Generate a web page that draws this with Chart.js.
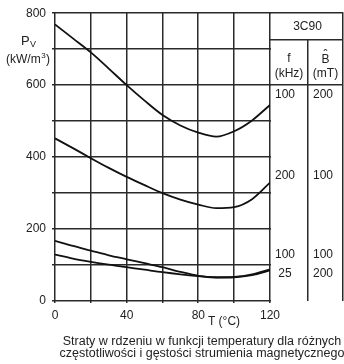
<!DOCTYPE html>
<html>
<head>
<meta charset="utf-8">
<style>
html,body{margin:0;padding:0;background:#fff;}
canvas{display:block;}
</style>
<script src="https://cdn.jsdelivr.net/npm/chart.js@4/dist/chart.umd.min.js"></script>
</head>
<body>
<canvas id="c" width="344" height="364"></canvas>
<script>
const temps = [0, 10, 20, 30, 40, 50, 60, 70, 80, 90, 100, 110, 120];
const p100k200mT = [769, 730, 691, 646, 600, 557, 517, 488, 468, 457, 472, 502, 545];
const p200k100mT = [452, 425, 397, 370, 345, 322, 300, 282, 268, 258, 261, 283, 329];
const p100k100mT = [167, 153, 140, 127, 116, 105, 94, 81, 70, 66, 67, 74, 88];
const p25k200mT  = [129, 118, 109, 101, 94, 87, 80, 74, 69, 65, 66, 72, 85];
const xTickLabels = [0, 40, 80, 120];
const yTickLabels = [0, 200, 400, 600, 800];
const yGridValues = [0, 100, 200, 300, 400, 500, 600, 700, 800];
const xGridValues = [0, 20, 40, 60, 80, 100, 120];
const material = '3C90';
const tableRows = [['100', '200'], ['200', '100'], ['100', '100'], ['25', '200']];
const rowValues = [p100k200mT, p200k100mT, p100k100mT, p25k200mT];
const caption = ['Straty w rdzeniu w funkcji temperatury dla różnych',
                 'częstotliwości i gęstości strumienia magnetycznego'];

const FONT = '"Liberation Sans", Arial, sans-serif';
const TXT = '#222';
const GRID = '#2a2a2a';

function ds(vals) {
  return {
    data: temps.map((t, i) => ({x: t, y: vals[i]})),
    borderColor: '#111', borderWidth: 1.8, pointRadius: 0,
    tension: 0.4, cubicInterpolationMode: 'monotone', fill: false
  };
}

function hLine(ctx, x1, x2, y) { ctx.fillRect(x1, Math.round(y) - 1, x2 - x1, 1.5); }
function vLine(ctx, x, y1, y2) { ctx.fillRect(Math.round(x) - 1, y1, 1.5, y2 - y1); }

const gridPlugin = {
  id: 'gridPlugin',
  beforeDatasetsDraw(chart) {
    const ctx = chart.ctx;
    const a = chart.chartArea;
    const xs = chart.scales.x, ys = chart.scales.y;
    ctx.save();
    ctx.fillStyle = GRID;
    yGridValues.forEach(v => hLine(ctx, a.left - 3, a.right + 1, ys.getPixelForValue(v)));
    xGridValues.forEach(v => vLine(ctx, xs.getPixelForValue(v), a.top - 1, a.bottom + 2));
    ctx.restore();
  }
};

const overlay = {
  id: 'overlay',
  afterDraw(chart) {
    const ctx = chart.ctx;
    const a = chart.chartArea;
    const ys = chart.scales.y;
    const right = 343;
    const colX = 307.5;
    const hdrY = 40;
    ctx.save();
    ctx.fillStyle = GRID;
    const t = ys.getPixelForValue(800);
    hLine(ctx, a.right, right, t);
    hLine(ctx, a.right, right, hdrY);
    hLine(ctx, a.right, right, ys.getPixelForValue(600));
    vLine(ctx, colX, hdrY, a.bottom);
    vLine(ctx, right, t - 1, a.bottom);

    ctx.fillStyle = TXT;
    ctx.font = '12px ' + FONT;
    ctx.textAlign = 'center'; ctx.textBaseline = 'middle';
    ctx.fillText(material, (a.right + right) / 2 + 1, 27);
    ctx.fillText('f', 289, 59);
    ctx.fillText('(kHz)', 289, 74);
    ctx.fillText('B', 325.5, 60);
    ctx.fillText('ˆ', 325.5, 56);
    ctx.fillText('(mT)', 325.5, 74);
    const rowY = [95, 176, 255, 274];
    tableRows.forEach((r, i) => {
      ctx.fillText(r[0], 285, rowY[i]);
      ctx.fillText(r[1], 323, rowY[i]);
    });

    // y axis title
    ctx.textAlign = 'left';
    ctx.font = '13px ' + FONT;
    ctx.fillText('P', 21, 41);
    ctx.font = '9px ' + FONT;
    ctx.fillText('V', 30, 45);
    ctx.font = '12px ' + FONT;
    let x = 6;
    ctx.fillText('(kW/m', x, 60);
    x += ctx.measureText('(kW/m').width;
    ctx.font = '8px ' + FONT;
    ctx.fillText('3', x + 0.5, 56);
    x += ctx.measureText('3').width + 1;
    ctx.font = '12px ' + FONT;
    ctx.fillText(')', x, 60);

    // x axis title
    ctx.textAlign = 'center';
    ctx.font = '12px ' + FONT;
    ctx.fillText('T (°C)', 224, 322);

    // caption
    ctx.font = '12.5px ' + FONT;
    ctx.fillText(caption[0], 202, 342);
    ctx.fillText(caption[1], 202, 354);
    ctx.restore();
  }
};

new Chart(document.getElementById('c'), {
  type: 'line',
  data: { datasets: rowValues.map(ds) },
  options: {
    responsive: false, animation: false, devicePixelRatio: 1,
    layout: { padding: { top: 13, right: 74, left: 0, bottom: 0 } },
    plugins: { legend: { display: false }, tooltip: { enabled: false } },
    scales: {
      x: {
        type: 'linear', min: 0, max: 120,
        afterFit(s) { s.height = 63; },
        grid: { display: false, tickLength: 3 },
        border: { display: false },
        ticks: {
          stepSize: 20, autoSkip: false, maxRotation: 0, padding: 4,
          color: TXT, font: { family: FONT, size: 12 },
          callback: v => xTickLabels.includes(v) ? String(v) : ''
        }
      },
      y: {
        type: 'linear', min: 0, max: 800,
        afterFit(s) { s.width = 55; },
        grid: { display: false, tickLength: 3 },
        border: { display: false },
        ticks: {
          stepSize: 100, autoSkip: false, padding: 6,
          color: TXT, font: { family: FONT, size: 12 },
          callback: v => yTickLabels.includes(v) ? String(v) : ''
        }
      }
    }
  },
  plugins: [gridPlugin, overlay]
});
</script>
</body>
</html>
